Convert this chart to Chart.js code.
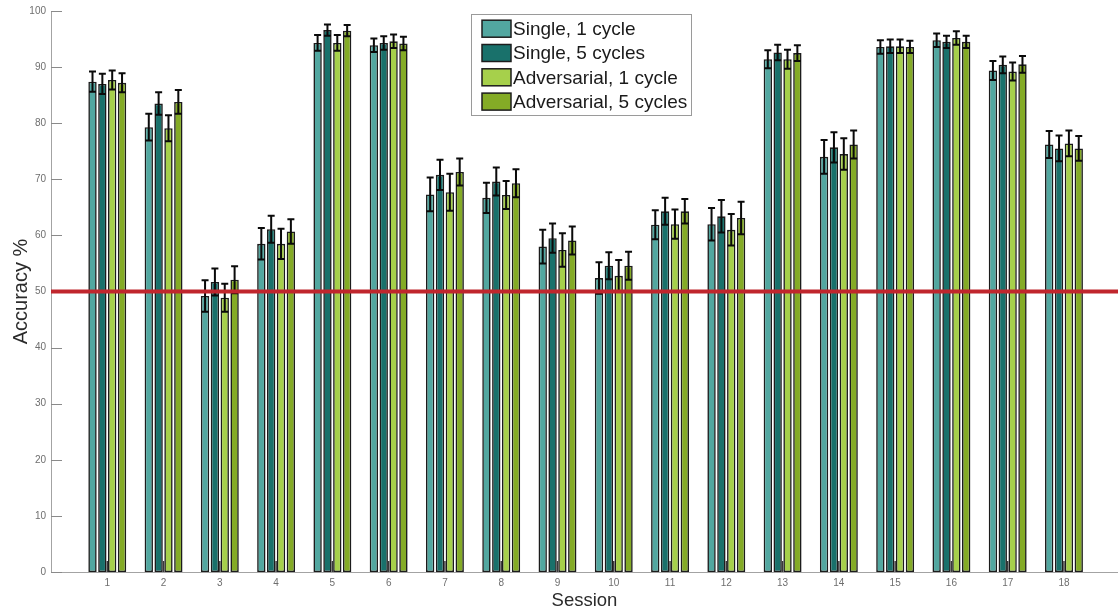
<!DOCTYPE html>
<html>
<head>
<meta charset="utf-8">
<script src="https://cdn.jsdelivr.net/npm/chart.js@4.4.1/dist/chart.umd.min.js"></script>
<style>
html,body{margin:0;padding:0;background:#fff;overflow:hidden;}
#wrap{width:1118px;height:615px;position:relative;}
</style>
</head>
<body>
<div id="wrap"><canvas id="c" width="1118" height="615"></canvas></div>
<script>
const sessions = [1,2,3,4,5,6,7,8,9,10,11,12,13,14,15,16,17,18];
const seriesNames = ['Single, 1 cycle','Single, 5 cycles','Adversarial, 1 cycle','Adversarial, 5 cycles'];
const single1 = [87.4,79.3,49.2,58.5,94.3,93.9,67.3,66.7,58.0,52.4,61.9,62.0,91.4,74.0,93.6,94.8,89.4,76.2];
const single5 = [87.0,83.5,51.7,61.1,96.6,94.3,70.8,69.6,59.5,54.6,64.3,63.4,92.6,75.7,93.7,94.5,90.4,75.5];
const adv1    = [87.7,79.1,48.9,58.5,94.3,94.6,67.7,67.2,57.4,52.8,62.0,61.0,91.4,74.5,93.7,95.2,89.2,76.4];
const adv5    = [87.2,83.8,52.1,60.7,96.5,94.2,71.3,69.3,59.1,54.6,64.3,63.1,92.5,76.2,93.6,94.5,90.5,75.5];
const single1Err = [1.8,2.4,2.8,2.8,1.4,1.2,3.0,2.7,3.0,2.8,2.6,2.9,1.6,3.0,1.2,1.2,1.7,2.4];
const single5Err = [1.8,2.0,2.4,2.4,1.0,1.2,2.7,2.5,2.6,2.4,2.4,2.9,1.4,2.7,1.2,1.1,1.5,2.3];
const adv1Err    = [1.7,2.3,2.5,2.7,1.4,1.2,3.3,2.5,3.0,2.8,2.6,2.8,1.7,2.8,1.2,1.2,1.6,2.3];
const adv5Err    = [1.7,2.1,2.4,2.2,1.0,1.2,2.4,2.5,2.5,2.5,2.2,2.9,1.4,2.5,1.1,1.1,1.5,2.2];
const yTicks = [0,10,20,30,40,50,60,70,80,90,100];
const chanceLevel = 50;
const colors = ['#52A7A0','#19716B','#A6D04B','#84AB26'];

const values = [single1, single5, adv1, adv5];
const errors = [single1Err, single5Err, adv1Err, adv5Err];

const datasets = values.map((vals, k) => ({
  label: seriesNames[k],
  data: sessions.map((s, i) => ({x: s, y: vals[i]})),
  errs: errors[k],
  backgroundColor: colors[k],
  borderColor: '#1c1c1c',
  borderWidth: 1.6,
  borderSkipped: false,
  categoryPercentage: 0.70,
  barPercentage: 0.85
}));

const axisColor = '#a3a3a3';

const decorPlugin = {
  id: 'decor',
  afterDatasetsDraw(chart) {
    const ctx = chart.ctx;
    const xs = chart.scales.x, ys = chart.scales.y;
    const area = chart.chartArea;
    ctx.save();
    // inward tick marks
    ctx.strokeStyle = '#8a8a8a';
    ctx.lineWidth = 1;
    yTicks.forEach(v => {
      const y = Math.round(ys.getPixelForValue(v)) + 0.5;
      ctx.beginPath(); ctx.moveTo(area.left, y); ctx.lineTo(area.left + 11, y); ctx.stroke();
    });
    ctx.strokeStyle = '#3a3a3a';
    ctx.lineWidth = 1.5;
    sessions.forEach(s => {
      const x = xs.getPixelForValue(s);
      ctx.beginPath(); ctx.moveTo(x, area.bottom); ctx.lineTo(x, area.bottom - 11); ctx.stroke();
    });
    // error bars
    ctx.strokeStyle = '#0a0a0a';
    ctx.lineWidth = 2;
    chart.data.datasets.forEach((ds, k) => {
      const meta = chart.getDatasetMeta(k);
      meta.data.forEach((bar, i) => {
        const v = ds.data[i].y, e = ds.errs[i];
        const yt = ys.getPixelForValue(v + e), yb = ys.getPixelForValue(v - e);
        const x = bar.x;
        ctx.beginPath();
        ctx.moveTo(x, yt); ctx.lineTo(x, yb);
        ctx.moveTo(x - 3.5, yt); ctx.lineTo(x + 3.5, yt);
        ctx.moveTo(x - 3.5, yb); ctx.lineTo(x + 3.5, yb);
        ctx.stroke();
      });
    });
    // chance level line
    const yc = ys.getPixelForValue(chanceLevel);
    ctx.strokeStyle = '#C0262D';
    ctx.lineWidth = 4;
    ctx.beginPath(); ctx.moveTo(area.left, yc); ctx.lineTo(area.right, yc); ctx.stroke();
    // legend
    const lx = 471, ly = 14, lw = 220, lh = 101;
    ctx.fillStyle = '#ffffff';
    ctx.fillRect(lx, ly, lw, lh);
    ctx.strokeStyle = '#9a9a9a';
    ctx.lineWidth = 1;
    ctx.strokeRect(lx + 0.5, ly + 0.5, lw, lh);
    ctx.font = '19px "Liberation Sans", Arial, sans-serif';
    ctx.textBaseline = 'middle';
    ctx.textAlign = 'left';
    chart.data.datasets.forEach((ds, k) => {
      const cy = 28.7 + 24.3 * k;
      ctx.fillStyle = ds.backgroundColor;
      ctx.fillRect(482, cy - 8.5, 29, 17);
      ctx.strokeStyle = '#1c1c1c';
      ctx.lineWidth = 1.5;
      ctx.strokeRect(482, cy - 8.5, 29, 17);
      ctx.fillStyle = '#1a1a1a';
      ctx.fillText(ds.label, 513, cy + 1);
    });
    ctx.restore();
  }
};

new Chart(document.getElementById('c'), {
  type: 'bar',
  data: { datasets },
  options: {
    responsive: false,
    animation: false,
    layout: { padding: { top: 8, left: 0, right: 0, bottom: 0 } },
    plugins: { legend: { display: false }, tooltip: { enabled: false } },
    scales: {
      x: {
        type: 'linear',
        offset: false,
        min: 0,
        max: 18.96,
        afterFit: s => { s.height = 43; },
        afterBuildTicks: s => { s.ticks = sessions.map(v => ({ value: v })); },
        grid: { display: false, offset: false, drawTicks: false },
        border: { display: true, color: axisColor, width: 1 },
        ticks: { autoSkip: false, maxRotation: 0, padding: 5, color: '#6e6e6e',
                 font: { family: '"Liberation Sans", Arial, sans-serif', size: 10 } },
        title: { display: true, text: 'Session', color: '#2b2b2b', padding: { top: 0, bottom: 3 },
                 font: { family: '"Liberation Sans", Arial, sans-serif', size: 18.5, weight: 'normal' } }
      },
      y: {
        min: 0,
        max: 100,
        afterFit: s => { s.width = 51; },
        afterBuildTicks: s => { s.ticks = yTicks.map(v => ({ value: v })); },
        grid: { display: false, drawTicks: false },
        border: { display: true, color: axisColor, width: 1 },
        ticks: { padding: 5, color: '#6e6e6e',
                 font: { family: '"Liberation Sans", Arial, sans-serif', size: 10 } },
        title: { display: true, text: 'Accuracy %', color: '#2b2b2b', padding: { top: 9, bottom: 0 },
                 font: { family: '"Liberation Sans", Arial, sans-serif', size: 20, weight: 'normal' } }
      }
    }
  },
  plugins: [decorPlugin]
});
</script>
</body>
</html>
